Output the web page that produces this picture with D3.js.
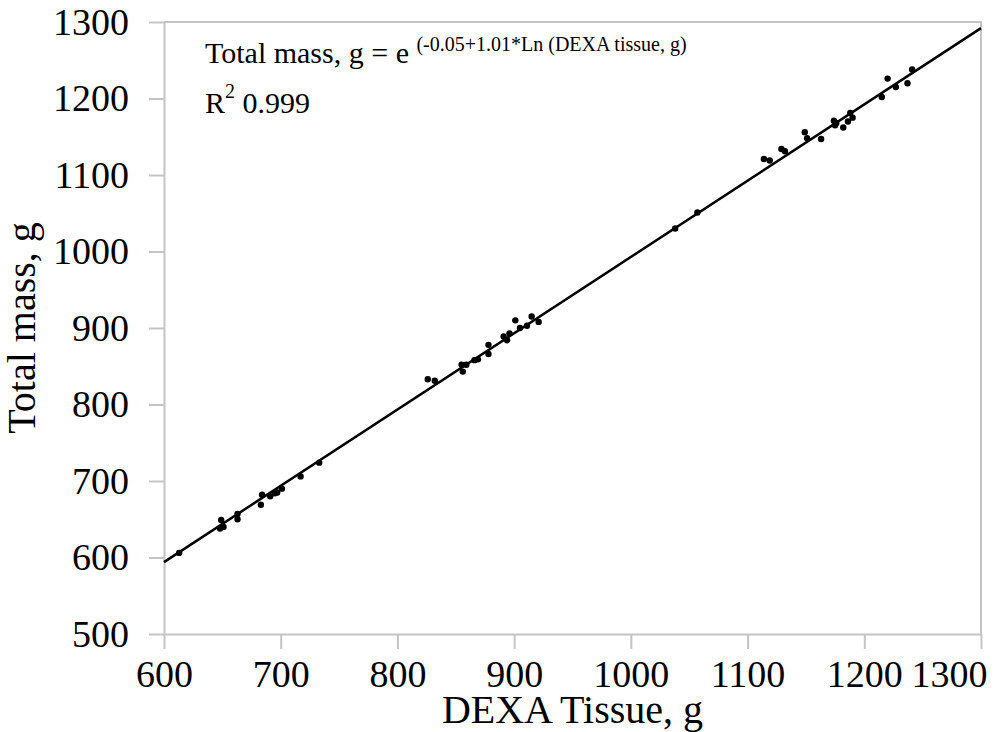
<!DOCTYPE html>
<html>
<head>
<meta charset="utf-8">
<script src="https://cdn.jsdelivr.net/npm/d3@7"></script>
<style>
  body { margin: 0; background: #fff; }
  svg text { font-family: "Liberation Serif", "Times New Roman", serif; fill: #000; }
</style>
</head>
<body>
<div id="chart"></div>
<script>
// DEXA tissue (g) vs total mass (g)
var dexa = [613, 649, 648, 651, 663, 663, 684, 683, 691, 695, 697, 701, 717, 733,
            826, 832, 855, 859, 856, 866, 869, 878, 878, 891, 894, 896, 901, 905, 911, 915, 921,
            1038, 1057,
            1114, 1119, 1129, 1132, 1149, 1151, 1163, 1174, 1175, 1176, 1182, 1186, 1188, 1190,
            1215, 1220, 1227, 1237, 1241];
var total = [606, 649, 638, 640, 657, 650, 682, 669, 680, 684, 685, 690, 706, 724,
             833, 831, 852, 852, 843, 858, 859, 878, 866, 889, 884, 893, 910, 900, 903, 915, 908,
             1030, 1051,
             1121, 1119, 1134, 1131, 1156, 1148, 1147, 1171, 1165, 1168, 1162, 1170, 1181, 1175,
             1202, 1226, 1215, 1220, 1238];

// fitted line end points
var fitX = [600, 1300];
var fitY = [594, 1292];

var xTicks = [600, 700, 800, 900, 1000, 1100, 1200, 1300];
var yTicks = [500, 600, 700, 800, 900, 1000, 1100, 1200, 1300];

var margin = {top: 22, right: 14, bottom: 98, left: 164},
    width = 995 - margin.left - margin.right,
    height = 732 - margin.top - margin.bottom;

var svg = d3.select("#chart").append("svg")
    .attr("width", 995)
    .attr("height", 732);

var g = svg.append("g")
    .attr("transform", "translate(" + margin.left + "," + margin.top + ")");

var x = d3.scaleLinear().domain([600, 1300]).range([0, width]);
var y = d3.scaleLinear().domain([500, 1300]).range([height, 0]);

var grey = "#c4c4c4";
var serif = "'Liberation Serif', 'Times New Roman', serif";

// frame (top and right)
g.append("path")
    .attr("d", "M0,0H" + width + "V" + height)
    .attr("fill", "none")
    .attr("stroke", grey)
    .attr("stroke-width", 2);

var yAxis = g.append("g")
    .call(d3.axisLeft(y).tickValues(yTicks).tickFormat(d3.format("d"))
      .tickSize(15).tickSizeOuter(0).tickPadding(20));

var xAxis = g.append("g")
    .attr("transform", "translate(0," + height + ")")
    .call(d3.axisBottom(x).tickValues(xTicks).tickFormat(d3.format("d"))
      .tickSize(15).tickSizeOuter(0).tickPadding(11));

[xAxis, yAxis].forEach(function(a) {
  a.attr("font-family", serif).attr("font-size", 38);
  a.selectAll("path, line").attr("stroke", grey).attr("stroke-width", 2);
  a.selectAll("text").style("font-family", serif).style("font-size", "38px");
});

// last x label is pushed in so it fits
xAxis.selectAll(".tick text")
    .filter(function(d) { return d === 1300; })
    .attr("text-anchor", "end")
    .attr("dx", 6);

// fitted line
g.append("line")
    .attr("x1", x(fitX[0])).attr("y1", y(fitY[0]))
    .attr("x2", x(fitX[1])).attr("y2", y(fitY[1]))
    .attr("stroke", "#000")
    .attr("stroke-width", 2.5);

// points
g.append("g")
  .selectAll("circle")
  .data(dexa.map(function(d, i) { return [d, total[i]]; }))
  .enter().append("circle")
    .attr("cx", function(d) { return x(d[0]); })
    .attr("cy", function(d) { return y(d[1]); })
    .attr("r", 3.2)
    .attr("fill", "#000");

// axis titles
svg.append("text")
    .attr("x", margin.left + width / 2)
    .attr("y", 723)
    .attr("text-anchor", "middle")
    .attr("font-size", 40)
    .text("DEXA Tissue, g");

svg.append("text")
    .attr("transform", "rotate(-90)")
    .attr("x", -(margin.top + height / 2))
    .attr("y", 35)
    .attr("text-anchor", "middle")
    .attr("font-size", 40)
    .text("Total mass, g");

// equation
var eq = svg.append("text")
    .attr("x", 205)
    .attr("y", 63)
    .attr("font-size", 30);
eq.append("tspan").text("Total mass, g = e ");
eq.append("tspan")
    .attr("font-size", 20)
    .attr("dy", -12)
    .text("(-0.05+1.01*Ln (DEXA tissue, g)");

var r2 = svg.append("text")
    .attr("x", 205)
    .attr("y", 113)
    .attr("font-size", 30);
r2.append("tspan").text("R");
r2.append("tspan").attr("font-size", 20).attr("dy", -15).text("2");
r2.append("tspan").attr("dy", 15).text(" 0.999");
</script>
</body>
</html>
